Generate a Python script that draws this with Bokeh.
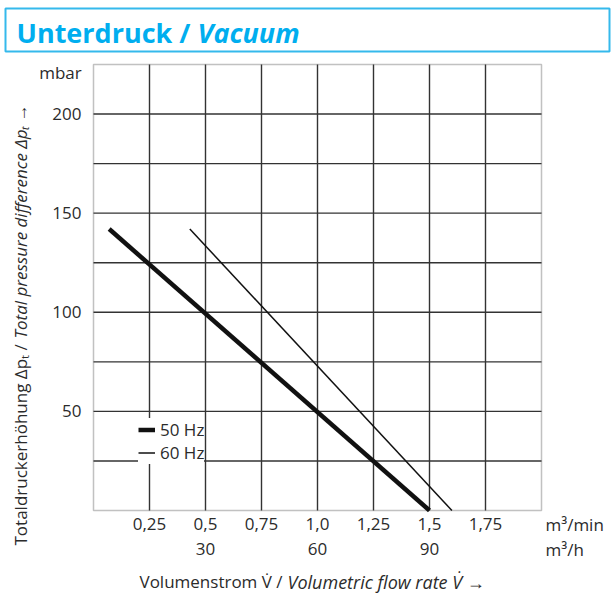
from math import pi
from bokeh.plotting import figure
from bokeh.layouts import column
from bokeh.models import (Label, LinearAxis, FixedTicker, Legend, LegendItem,
                          Range1d, BoxAnnotation)
from bokeh.embed import file_html
from bokeh.resources import INLINE

# ---- data ----
flow_50 = [0.07, 1.5]
dp_50 = [142, 0]
flow_60 = [0.43, 1.6]
dp_60 = [142, 0]

x_ticks = [0.25, 0.5, 0.75, 1.0, 1.25, 1.5, 1.75]
x_tick_labels = ["0,25", "0,5", "0,75", "1,0", "1,25", "1,5", "1,75"]
xh_ticks = [0.5, 1.0, 1.5]
xh_tick_labels = ["30", "60", "90"]
y_ticks = [50, 100, 150, 200]
x_grid = [0.25, 0.5, 0.75, 1.0, 1.25, 1.5, 1.75]
y_grid = [25, 50, 75, 100, 125, 150, 175, 200]
X_MIN, X_MAX = 0.0, 2.0
Y_MIN, Y_MAX = 0.0, 225.0

FONT = "Open Sans"
TXT = "#2b2b2b"
BLUE = "#00aeef"
GRIDC = "#333333"
FS = "17px"

W, PAGE_H = 613, 596
TOP_H = 56
H = PAGE_H - TOP_H
FL, FR, FT, FB = 93, 541, 64, 510   # chart box edges in page pixels

# ---- title strip ----
top = figure(width=W, height=TOP_H, x_range=Range1d(0, 1), y_range=Range1d(0, 1),
             output_backend="svg", toolbar_location=None,
             x_axis_type=None, y_axis_type=None,
             min_border_left=5, min_border_right=4, min_border_top=8,
             min_border_bottom=5)
top.frame_align = False
top.outline_line_color = "#35b9ec"
top.outline_line_width = 2
top.border_fill_color = "white"
top.add_layout(Label(x=11, y=1, x_units="screen", y_units="screen",
                     text="Unterdruck /", text_font=FONT, text_font_size="27px",
                     text_font_style="bold", text_color=BLUE))
top.add_layout(Label(x=192, y=1, x_units="screen", y_units="screen",
                     text="Vacuum", text_font=FONT, text_font_size="27px",
                     text_font_style="bold italic", text_color=BLUE))

# ---- chart: frame spans the whole canvas, chart box mapped inside ----
ppx = (FR - FL) / (X_MAX - X_MIN)
ppy = (FB - FT) / (Y_MAX - Y_MIN)
x_range = Range1d(X_MIN - FL / ppx, X_MAX + (W - FR) / ppx)
y_range = Range1d(Y_MIN - (PAGE_H - FB) / ppy, Y_MAX + (FT - TOP_H) / ppy)

p = figure(width=W, height=H, x_range=x_range, y_range=y_range,
           output_backend="svg", toolbar_location=None,
           x_axis_type=None, y_axis_type=None,
           min_border_left=0, min_border_right=0, min_border_top=0,
           min_border_bottom=0)
p.frame_align = False
p.outline_line_color = None
p.background_fill_color = "white"
p.border_fill_color = "white"
p.xgrid.visible = False
p.ygrid.visible = False

# grid lines inside the chart box
p.segment(x0=x_grid, y0=[Y_MIN] * len(x_grid), x1=x_grid, y1=[Y_MAX] * len(x_grid),
          line_color=GRIDC, line_width=1.4)
p.segment(x0=[X_MIN] * len(y_grid), y0=y_grid, x1=[X_MAX] * len(y_grid), y1=y_grid,
          line_color=GRIDC, line_width=1.4)
p.add_layout(BoxAnnotation(left=X_MIN, right=X_MAX, bottom=Y_MIN, top=Y_MAX,
                           fill_alpha=0, line_color=GRIDC, line_width=1.5,
                           level="underlay"))

def style_axis(ax, standoff):
    ax.axis_line_color = None
    ax.major_tick_line_color = None
    ax.minor_tick_line_color = None
    ax.major_tick_in = 0
    ax.major_tick_out = 0
    ax.minor_tick_in = 0
    ax.minor_tick_out = 0
    ax.major_label_text_font = FONT
    ax.major_label_text_font_size = FS
    ax.major_label_text_color = TXT
    ax.major_label_standoff = standoff

yax = LinearAxis(ticker=FixedTicker(ticks=y_ticks), fixed_location=X_MIN)
style_axis(yax, 12)
p.add_layout(yax, "left")

xax = LinearAxis(ticker=FixedTicker(ticks=x_ticks), fixed_location=Y_MIN,
                 major_label_overrides={t: l for t, l in zip(x_ticks, x_tick_labels)})
style_axis(xax, 7)
p.add_layout(xax, "below")

xax2 = LinearAxis(ticker=FixedTicker(ticks=xh_ticks), fixed_location=Y_MIN,
                  major_label_overrides={t: l for t, l in zip(xh_ticks, xh_tick_labels)})
style_axis(xax2, 32)
p.add_layout(xax2, "below")

r50 = p.line(flow_50, dp_50, line_color="#111111", line_width=4.5)
r60 = p.line(flow_60, dp_60, line_color="#111111", line_width=1.5)

leg = Legend(items=[LegendItem(label="50 Hz", renderers=[r50]),
                    LegendItem(label="60 Hz", renderers=[r60])],
             location=(FL + 45, PAGE_H - FB + 46), background_fill_color="white",
             background_fill_alpha=1.0, border_line_color=None,
             label_text_font=FONT, label_text_font_size="17px",
             label_text_color=TXT, glyph_width=17, glyph_height=19,
             label_height=19, spacing=0, padding=2, margin=0,
             label_standoff=5)
p.add_layout(leg, "center")

def lab(px, py, text, size=FS, style="normal", color=TXT, align="left",
        baseline="middle", angle=0.0):
    # px, py: page pixel position (top-left origin) -> screen units of the frame
    p.add_layout(Label(x=px, y=PAGE_H - py, x_units="screen", y_units="screen",
                       text=text, text_font=FONT, text_font_size=size,
                       text_font_style=style, text_color=color,
                       text_align=align, text_baseline=baseline, angle=angle))

# units
lab(60, 72, "mbar", align="center")
lab(545, 524, "m³/min")
lab(545, 549, "m³/h")

# x title
lab(139, 581, "Volumenstrom V\u0307 /")
lab(287, 581, "Volumetric flow rate V\u0307 \u2192", size="18px", style="italic")

# y title (rotated)
lab(20, 545, "Totaldruckerhöhung \u0394p\u209c /", angle=pi / 2)
lab(20, 338, "Total pressure difference \u0394p\u209c \u2192", style="italic",
    angle=pi / 2)

open("out.html", "w").write(file_html(column(top, p, spacing=0), INLINE))
